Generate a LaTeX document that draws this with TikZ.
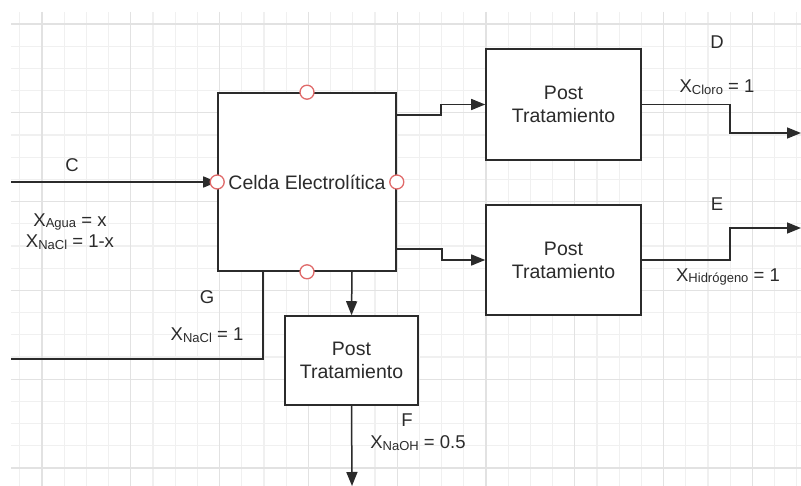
\documentclass[tikz,border=0pt]{standalone}
\usepackage{fontspec}
\setmainfont{Liberation Sans}
\usetikzlibrary{arrows.meta,positioning,calc}
\definecolor{Ink}{HTML}{2B2B2B}
\definecolor{GridMinor}{HTML}{F0F0F0}
\definecolor{GridMajor}{HTML}{E2E2E2}
\definecolor{Port}{HTML}{E06A6A}
\newcommand{\molfrac}[2]{X\raisebox{-1.5pt}{\fontsize{13}{14}\selectfont #1} = #2}
\tikzset{
procbox/.style={draw=Ink, line width=1.6pt, fill=white, align=center, text=Ink, font=\fontsize{19.5}{23}\selectfont},
flowline/.style={draw=Ink, line width=1.5pt, -{Triangle[length=14pt,width=11pt]}},
plainline/.style={draw=Ink, line width=1.5pt},
portmark/.style={circle, draw=Port, line width=1.3pt, fill=white, minimum size=14pt, inner sep=0pt},
streamlbl/.style={text=Ink, font=\fontsize{18.5}{22}\selectfont, inner sep=1pt}
}
\begin{document}
\begin{tikzpicture}[x=1pt, y=-1pt, >=Latex]
  \useasboundingbox (0,0) rectangle (801,486);
  % background grid
  \foreach \i in {0,...,35} {
    \draw[GridMinor, line width=1.2pt] ({19.8+22.2*\i},12) -- ({19.8+22.2*\i},486);
  }
  \foreach \j in {0,...,21} {
    \draw[GridMinor, line width=1.2pt] (11,{24+22.2*\j}) -- (801,{24+22.2*\j});
  }
  \foreach \i in {0,...,8} {
    \draw[GridMajor, line width=1.2pt] ({42+88.8*\i},12) -- ({42+88.8*\i},486);
  }
  \foreach \j in {0,...,5} {
    \draw[GridMajor, line width=1.2pt] (11,{24+88.8*\j}) -- (801,{24+88.8*\j});
  }

  % units
  \node[procbox, minimum width=178pt, minimum height=178pt] (celda) at (307,182) {};
  \node[procbox, minimum width=155pt, minimum height=111pt] (postA) at (563.5,104.5) {Post\\Tratamiento};
  \node[procbox, minimum width=155pt, minimum height=110pt] (postB) at (563.5,260) {Post\\Tratamiento};
  \node[procbox, minimum width=133pt, minimum height=89pt] (postC) at (351.5,360.5) {Post\\Tratamiento};

  % free ends
  \coordinate (inC) at (11,182);
  \coordinate (inG) at (11,359);
  \coordinate (outD) at (801,133);
  \coordinate (outE) at (801,228);
  \coordinate (outF) at (352,486);

  % streams
  \draw[flowline] (inC) -- (celda.west);
  \draw[flowline] ([yshift=67pt]celda.east) -- ++(44,0) |- (postA.west);
  \draw[flowline] ([yshift=-67pt]celda.east) -- ++(45,0) |- (postB.west);
  \draw[flowline] ([xshift=45pt]celda.south) -- (postC.north);
  \draw[plainline] (inG) -| ([xshift=-44pt]celda.south);
  \draw[flowline] (postA.east) -- ++(88,0) |- (outD);
  \draw[flowline] (postB.east) -- ++(88,0) |- (outE);
  \draw[flowline] (postC.south) -- (outF);

  % ports
  \node[portmark] (pN) at (celda.north) {};
  \node[portmark] (pS) at (celda.south) {};
  \node[portmark] (pW) at (celda.west) {};
  \node[portmark] (pE) at (celda.east) {};
  \node[text=Ink, font=\fontsize{19.5}{23}\selectfont, inner sep=0pt] (celdaTxt) at (307,182) {Celda Electrolítica};

  % labels
  \node[streamlbl] (lblC) at (72,165) {C};
  \node[streamlbl] (xAgua) at (70,222) {\molfrac{Agua}{x}};
  \node[streamlbl] (xNaCl) at (70,242) {\molfrac{NaCl}{1-x}};
  \node[streamlbl] (lblD) at (717,42) {D};
  \node[streamlbl] (xCl) at (717,87) {\molfrac{Cloro}{1}};
  \node[streamlbl] (lblE) at (717,204) {E};
  \node[streamlbl] (xH) at (728,277) {\molfrac{Hidrógeno}{1}};
  \node[streamlbl] (lblG) at (207,297) {G};
  \node[streamlbl] (xNaClG) at (207,335) {\molfrac{NaCl}{1}};
  \node[streamlbl] (lblF) at (407,420) {F};
  \node[streamlbl] (xNaOH) at (418,443) {\molfrac{NaOH}{0.5}};
\end{tikzpicture}
\end{document}
